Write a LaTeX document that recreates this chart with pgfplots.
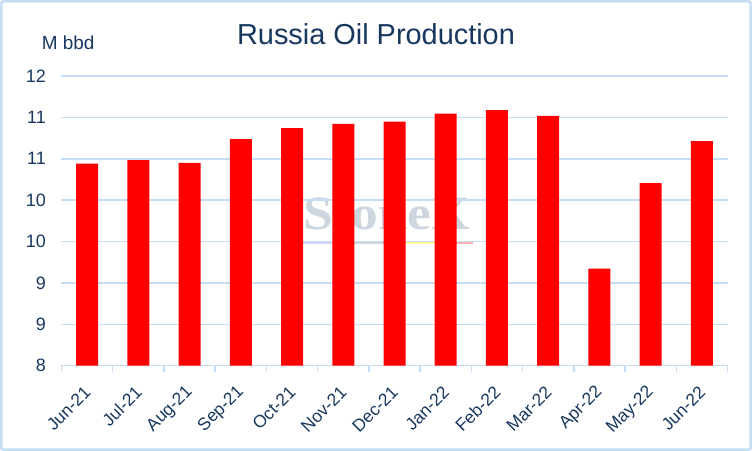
\documentclass[border=0pt]{standalone}
\usepackage{pgfplots}
\pgfplotsset{compat=1.18}
\usepackage{fontspec}
\setmainfont{Liberation Sans}
\newfontfamily\wmfont{Liberation Serif}
\definecolor{navy}{RGB}{23,55,94}
\definecolor{lblue}{RGB}{197,222,245}
\definecolor{wm}{RGB}{205,213,222}
\begin{document}
\begin{tikzpicture}
\useasboundingbox (-61.5bp,-85.3bp) rectangle (690.5bp,365.7bp);
\draw[lblue, line width=2.5bp, rounded corners=2bp] (-60.2bp,-84bp) rectangle (689.2bp,364.4bp);
% watermark
\node[anchor=base, text=wm, font=\wmfont\bfseries\fontsize{48}{50}\selectfont, xscale=1.12] at (325.5bp,135.7bp) {StoneX};
\fill[wm!70!blue!40] (241.5bp,121.5bp) rectangle (280bp,124bp);
\fill[wm] (280bp,121.5bp) rectangle (335bp,124bp);
\fill[yellow!40] (340bp,121.5bp) rectangle (380bp,124bp);
\fill[red!30] (392bp,121.5bp) rectangle (411.5bp,124bp);
\begin{axis}[
  at={(0,0)}, anchor=south west,
  scale only axis,
  width=666bp, height=289.7bp,
  xmin=-0.5, xmax=12.5,
  ymin=8, ymax=12,
  axis lines*=left,
  y axis line style={draw=none},
  x axis line style={draw=lblue, line width=1.5bp},
  ytick={8,8.571428,9.142857,9.714286,10.285714,10.857143,11.428571,12},
  yticklabels={8,9,9,10,10,11,11,12},
  ytick style={draw=none},
  ymajorgrids,
  grid style={lblue, line width=1.5bp},
  xtick={0,...,12},
  xticklabels={Jun-21,Jul-21,Aug-21,Sep-21,Oct-21,Nov-21,Dec-21,Jan-22,Feb-22,Mar-22,Apr-22,May-22,Jun-22},
  major x tick style={draw=none},
  minor xtick={-0.5,0.5,...,12.5},
  minor tick length=6bp,
  tick align=outside,
  minor x tick style={lblue, line width=1.5bp},
  xticklabel style={rotate=45, anchor=east, text=navy, font=\fontsize{17.5}{19}\selectfont, xshift=-10bp, yshift=-14bp},
  yticklabel style={text=navy, font=\fontsize{18}{20}\selectfont, xshift=-8bp},
  /pgf/number format/assume math mode=true,
  clip=false,
]
\addplot[ybar, bar width=22bp, fill=red, draw=none] coordinates {
(0,10.79) (1,10.84) (2,10.80) (3,11.13) (4,11.28) (5,11.34) (6,11.37)
(7,11.48) (8,11.53) (9,11.45) (10,9.34) (11,10.52) (12,11.10)};
\end{axis}
\node[anchor=base, text=navy, font=\fontsize{29}{32}\selectfont] at (314.5bp,321.4bp) {Russia Oil Production};
\node[anchor=base west, inner sep=0pt, text=navy, font=\fontsize{19}{21}\selectfont] at (-19.8bp,316bp) {M bbd};
\end{tikzpicture}
\end{document}
